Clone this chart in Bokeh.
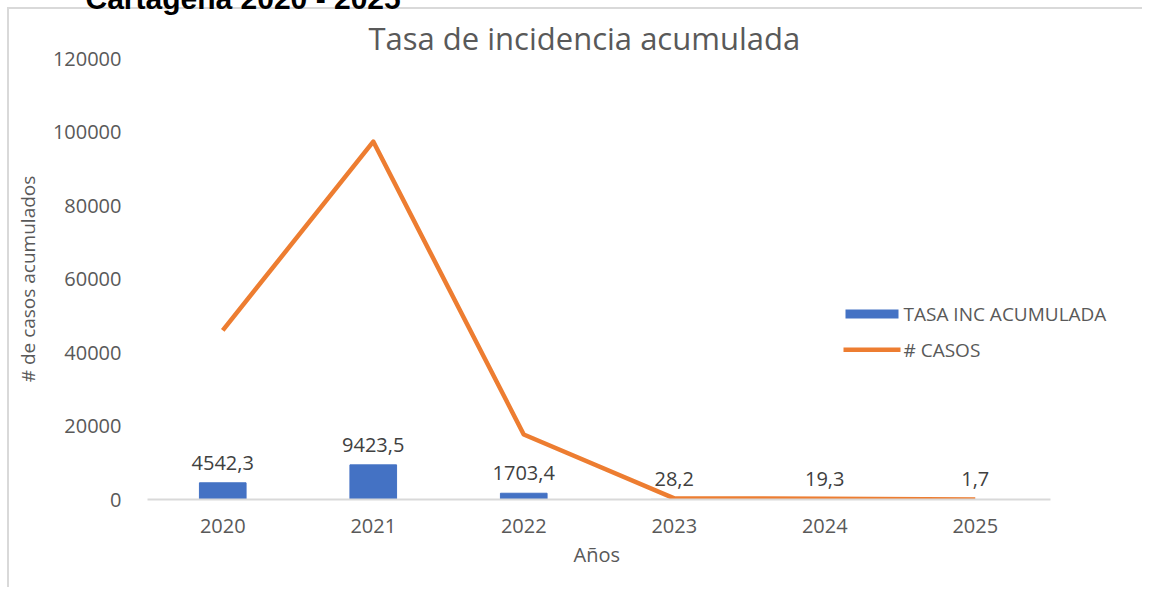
from bokeh.plotting import figure
from bokeh.models import (ColumnDataSource, LabelSet, Label, BoxAnnotation,
                          Range1d, FixedTicker, NumeralTickFormatter, Title)
from bokeh.embed import file_html
from bokeh.resources import INLINE
from bokeh.core.properties import value

years = ["2020", "2021", "2022", "2023", "2024", "2025"]
tasa = [4542.3, 9423.5, 1703.4, 28.2, 19.3, 1.7]
tasa_labels = ["4542,3", "9423,5", "1703,4", "28,2", "19,3", "1,7"]
casos = [46000, 97400, 17700, 295, 204, 18]
y_ticks = [0, 20000, 40000, 60000, 80000, 100000, 120000]
legend_labels = ["TASA INC ACUMULADA", "# CASOS"]

FONT = "Open Sans"
GRAY = "#595959"
BLUE = "#4472C4"
ORANGE = "#ED7D31"

xpos = list(range(len(years)))
src = ColumnDataSource(dict(x=xpos, tasa=tasa, lab=tasa_labels, casos=casos))

# canvas origin sits at page (M, M) because of the negative margin
M = -30
OFF = -M
W, H = 1142 + OFF, 587 + OFF
FL, FT, FB = 147, 58, 499    # frame left / top / bottom in page pixels
CAT = 150.5                  # pixels per category

x_end = (1142 - FL) / CAT - 0.5

p = figure(x_range=Range1d(-0.5, x_end), y_range=Range1d(y_ticks[0], y_ticks[-1]),
           width=W, height=H, output_backend="svg", toolbar_location=None,
           title=None,
           min_border_left=FL + OFF, min_border_right=0,
           min_border_top=FT + OFF, min_border_bottom=H - (FB + OFF))
p.margin = (M, 0, 0, M)
p.outline_line_color = None
p.background_fill_alpha = 0
p.border_fill_alpha = 0
p.xgrid.grid_line_color = None
p.ygrid.grid_line_color = None
b = OFF + 7
p.styles = {
    "background": f"linear-gradient(#d9d9d9, #d9d9d9) {b}px {b}px / 2px 100% no-repeat, "
                  f"linear-gradient(#d9d9d9, #d9d9d9) {b}px {b}px / 100% 2px no-repeat, "
                  "white"
}

bars = p.vbar(x="x", top="tasa", width=0.31, source=src, color=BLUE)
line = p.line(x="x", y="casos", source=src, line_color=ORANGE,
              line_width=4.5, line_join="round")

# x axis
p.xaxis.ticker = FixedTicker(ticks=xpos)
p.xaxis.major_label_overrides = {i: y for i, y in zip(xpos, years)}
p.xaxis.bounds = (-0.5, len(years) - 0.5)
p.xaxis.axis_line_color = "#d9d9d9"
p.xaxis.axis_line_width = 2
p.xaxis.major_tick_line_color = None
p.xaxis.minor_tick_line_color = None
p.xaxis.major_label_standoff = 13
p.xaxis.major_label_text_font = FONT
p.xaxis.major_label_text_font_size = "20px"
p.xaxis.major_label_text_color = GRAY

# x axis title, placed under the axis and aligned with the category span
p.add_layout(Title(text="Años", align="left", offset=573 - FL, standoff=7,
                   text_font=FONT, text_font_size="20px", text_font_style="normal",
                   text_color=GRAY), "below")

# y axis
p.yaxis.ticker = FixedTicker(ticks=y_ticks)
p.yaxis.formatter = NumeralTickFormatter(format="0")
p.yaxis.axis_line_color = None
p.yaxis.major_tick_line_color = None
p.yaxis.minor_tick_line_color = None
p.yaxis.major_label_standoff = 20
p.yaxis.major_label_text_font = FONT
p.yaxis.major_label_text_font_size = "20px"
p.yaxis.major_label_text_color = GRAY
p.yaxis.axis_label = "# de casos acumulados"
p.yaxis.axis_label_text_font = FONT
p.yaxis.axis_label_text_font_size = "19px"
p.yaxis.axis_label_text_font_style = "normal"
p.yaxis.axis_label_text_color = GRAY
p.yaxis.axis_label_standoff = 9

# chart title (nearest the plot area)
p.add_layout(Title(text="Tasa de incidencia acumulada", align="left",
                   offset=368 - FL, standoff=0, text_font=FONT,
                   text_font_size="31px", text_font_style="normal",
                   text_color=GRAY), "above")

# heading, mostly above the top of the page
p.add_layout(Title(text="Cartagena 2020 - 2025", align="left", offset=85 - FL,
                   standoff=0, text_font="Liberation Sans", text_font_style="bold",
                   text_font_size="30px", text_color="black"), "above")

# data labels
labels = LabelSet(x="x", y="tasa", text="lab", source=src, text_align="center",
                  text_baseline="middle", y_offset=20, text_font=value(FONT),
                  text_font_size="20px", text_color="#404040")
p.add_layout(labels)

def sx(px):  # page x -> frame-relative screen x
    return px - FL

def sy(py):  # page y -> frame-relative screen y (upwards)
    return FB - py

# legend
p.add_layout(BoxAnnotation(left=sx(845), right=sx(898), top=sy(309), bottom=sy(318),
                           left_units="screen", right_units="screen",
                           top_units="screen", bottom_units="screen",
                           fill_color=BLUE, fill_alpha=1, line_color=None))
p.add_layout(BoxAnnotation(left=sx(843), right=sx(900), top=sy(347), bottom=sy(351.5),
                           left_units="screen", right_units="screen",
                           top_units="screen", bottom_units="screen",
                           fill_color=ORANGE, fill_alpha=1, line_color=None))
for txt, py in zip(legend_labels, [313, 349]):
    p.add_layout(Label(x=sx(903), y=sy(py), x_units="screen", y_units="screen",
                       text=txt, text_align="left", text_baseline="middle",
                       text_font=FONT, text_font_size="19px", text_color=GRAY))

open("out.html", "w").write(file_html(p, INLINE))
